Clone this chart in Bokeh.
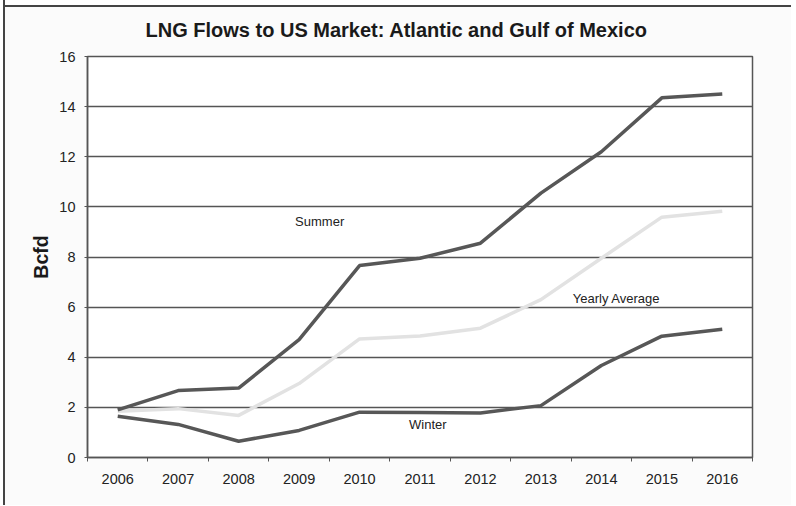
from bokeh.plotting import figure
from bokeh.models import FixedTicker, Label
from bokeh.embed import file_html
from bokeh.resources import INLINE

years = [2006, 2007, 2008, 2009, 2010, 2011, 2012, 2013, 2014, 2015, 2016]
summer = [1.9, 2.67, 2.77, 4.7, 7.66, 7.95, 8.55, 10.55, 12.2, 14.35, 14.5]
yearly_avg = [1.85, 1.95, 1.68, 2.95, 4.73, 4.85, 5.16, 6.3, 7.95, 9.59, 9.83]
winter = [1.65, 1.32, 0.65, 1.08, 1.81, 1.8, 1.78, 2.07, 3.67, 4.84, 5.12]
y_ticks = [0, 2, 4, 6, 8, 10, 12, 14, 16]
title_text = "LNG Flows to US Market: Atlantic and Gulf of Mexico"

FONT = "Liberation Sans"
DARK = "#555555"

p = figure(width=788, height=505, output_backend="svg", toolbar_location=None,
           x_range=(2005.5, 2016.5), y_range=(0, 16),
           min_border_left=82, min_border_right=41, min_border_top=56, min_border_bottom=48,
           background_fill_color="white", border_fill_alpha=0)

p.styles = {"border-left": "2px solid #444", "margin-left": "3px",
            "background": "linear-gradient(to bottom, #ffffff 0px, #ffffff 5px, #444444 5px, "
                          "#444444 7px, #fbfbfb 7px, #fbfbfb 100%)"}

p.title.text = title_text
p.title.align = "left"
p.title.offset = 58
p.title.standoff = 31
p.title.text_font = FONT
p.title.text_font_size = "20px"
p.title.text_font_style = "bold"
p.title.text_color = "#1a1a1a"

p.outline_line_color = DARK
p.outline_line_width = 1.5

p.xgrid.grid_line_color = None
p.ygrid.grid_line_color = DARK
p.ygrid.grid_line_width = 1.3
p.ygrid.ticker = FixedTicker(ticks=y_ticks)

p.yaxis.ticker = FixedTicker(ticks=y_ticks)
p.xaxis.ticker = FixedTicker(ticks=years, minor_ticks=[y - 0.5 for y in years] + [2016.5])

for ax in (p.xaxis[0], p.yaxis[0]):
    ax.axis_line_color = DARK
    ax.axis_line_width = 1.5
    ax.major_label_text_font = FONT
    ax.major_label_text_font_size = "14.5px"
    ax.major_label_text_color = "#222222"
    ax.major_tick_line_color = DARK
    ax.minor_tick_line_color = DARK

p.xaxis.major_tick_out = 0
p.xaxis.major_tick_in = 0
p.xaxis.minor_tick_out = 4
p.xaxis.minor_tick_in = 0
p.xaxis.major_label_standoff = 12
p.yaxis.major_tick_out = 3
p.yaxis.major_tick_in = 0
p.yaxis.minor_tick_line_color = None
p.yaxis.major_label_standoff = 9

p.yaxis.axis_label = "Bcfd"
p.yaxis.axis_label_text_font = FONT
p.yaxis.axis_label_text_font_size = "19.5px"
p.yaxis.axis_label_text_font_style = "bold"
p.yaxis.axis_label_text_color = "#1a1a1a"
p.yaxis.axis_label_standoff = 4

p.line(years, yearly_avg, line_color="#e2e2e2", line_width=3.5)
p.line(years, summer, line_color="#575757", line_width=3.5)
p.line(years, winter, line_color="#575757", line_width=3.5)

for txt, x, y in [("Summer", 2009.34, 9.4), ("Yearly Average", 2014.25, 6.34), ("Winter", 2011.13, 1.3)]:
    p.add_layout(Label(x=x, y=y, text=txt, text_font=FONT, text_font_size="13px",
                       text_color="#222222", text_align="center", text_baseline="middle"))

open("out.html", "w").write(file_html(p, INLINE))
